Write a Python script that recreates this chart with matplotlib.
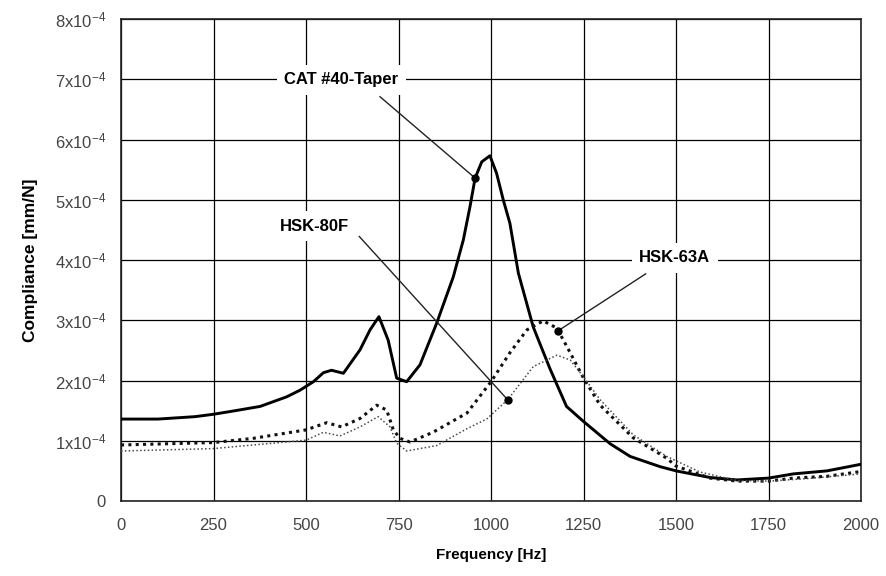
"""
Compliance FRF of three tool-holder interfaces (CAT #40 taper, HSK-80F, HSK-63A).
"""

import matplotlib

matplotlib.use("Agg")
import matplotlib.pyplot as plt
from matplotlib.ticker import FixedLocator, FuncFormatter

# ── Data (compliance in units of 1e-4 mm/N) ───────────────────────────────

cat40_freq = [0, 100, 200, 250, 300, 376, 448, 484, 520, 547, 569, 601, 646,
              673, 697, 722, 745, 772, 808, 853, 898, 925, 943, 957, 975, 997,
              1015, 1033, 1051, 1074, 1114, 1159, 1204, 1250, 1322, 1376, 1457,
              1500, 1592, 1665, 1750, 1817, 1908, 2000]
cat40_comp = [1.36, 1.36, 1.40, 1.44, 1.49, 1.57, 1.73, 1.84, 1.98, 2.13, 2.17,
              2.12, 2.51, 2.84, 3.06, 2.67, 2.04, 1.98, 2.26, 2.95, 3.72, 4.33,
              4.88, 5.36, 5.63, 5.73, 5.44, 5.00, 4.61, 3.78, 2.89, 2.20, 1.57,
              1.32, 0.95, 0.74, 0.57, 0.50, 0.39, 0.35, 0.38, 0.45, 0.50, 0.61]

hsk63_freq = [0, 250, 357, 500, 556, 596, 646, 691, 718, 736, 754, 781, 843,
              935, 1000, 1051, 1097, 1141, 1178, 1214, 1250, 1295, 1384, 1475,
              1500, 1592, 1665, 1750, 1817, 1908, 2000]
hsk63_comp = [0.93, 0.97, 1.04, 1.18, 1.30, 1.23, 1.37, 1.59, 1.51, 1.18, 1.04,
              0.98, 1.14, 1.46, 1.98, 2.46, 2.84, 2.99, 2.87, 2.46, 2.04, 1.59,
              1.05, 0.71, 0.58, 0.38, 0.33, 0.33, 0.38, 0.41, 0.49]

hsk80_freq = [0, 250, 500, 547, 592, 646, 695, 727, 745, 772, 853, 935, 988,
              1045, 1114, 1178, 1214, 1250, 1295, 1384, 1475, 1565, 1665, 1750,
              1850, 2000]
hsk80_comp = [0.83, 0.87, 1.01, 1.14, 1.08, 1.23, 1.40, 1.23, 0.96, 0.83, 0.92,
              1.20, 1.36, 1.68, 2.23, 2.42, 2.34, 2.06, 1.68, 1.10, 0.74, 0.48,
              0.34, 0.33, 0.37, 0.45]

x_ticks = [0, 250, 500, 750, 1000, 1250, 1500, 1750, 2000]
y_ticks = [0, 1, 2, 3, 4, 5, 6, 7, 8]

# callouts: label, text position, leader start, point on curve
label_names = ["CAT #40-Taper", "HSK-80F", "HSK-63A"]
label_pos = [(595, 6.99), (523, 4.56), (1497, 4.04)]
leader_from = [(700, 6.71), (644, 4.39), (1418, 3.77)]
curve_pts = [(957, 5.36), (1045, 1.68), (1180, 2.82)]

# ── Plot ──────────────────────────────────────────────────────────────────

plt.rcParams["font.family"] = ["Liberation Sans", "DejaVu Sans"]
plt.rcParams["mathtext.default"] = "regular"

fig = plt.figure(figsize=(8.86, 5.76), dpi=100)
ax = fig.add_axes([0.1366, 0.1302, 0.8352, 0.8368])

scale = 1e-4
ax.plot(cat40_freq, [v * scale for v in cat40_comp], color="black",
        linewidth=2.1, solid_joinstyle="round", zorder=4)
ax.plot(hsk63_freq, [v * scale for v in hsk63_comp], color="#111111",
        linewidth=2.2, linestyle=(0, (1, 1.4)), zorder=4)
ax.plot(hsk80_freq, [v * scale for v in hsk80_comp], color="#4a4a4a",
        linewidth=1.1, linestyle=(0, (1, 1.5)), zorder=4)

for name, tp, lp, cp in zip(label_names, label_pos, leader_from, curve_pts):
    ax.text(tp[0], tp[1] * scale, name, ha="center", va="center",
            fontsize=12, fontweight="bold",
            bbox=dict(boxstyle="square,pad=0.45", facecolor="white",
                      edgecolor="none"), zorder=3)
    ax.plot([lp[0], cp[0]], [lp[1] * scale, cp[1] * scale], color="#222222",
            linewidth=1.0, zorder=5)
    ax.plot(cp[0], cp[1] * scale, "o", color="black", markersize=5, zorder=6)

ax.set_xlim(0, 2000)
ax.set_ylim(0, 8 * scale)
ax.xaxis.set_major_locator(FixedLocator(x_ticks))
ax.yaxis.set_major_locator(FixedLocator([t * scale for t in y_ticks]))


def fmt_y(val, pos):
    k = int(round(val / scale))
    return "0" if k == 0 else f"{k}x10$^{{-4}}$"


ax.yaxis.set_major_formatter(FuncFormatter(fmt_y))
ax.grid(True, color="black", linewidth=0.9)
ax.set_axisbelow(True)
ax.tick_params(length=0, labelsize=12, labelcolor="#444444")
ax.tick_params(axis="y", pad=11)
ax.tick_params(axis="x", pad=12)
for sp in ax.spines.values():
    sp.set_linewidth(1.2)
    sp.set_color("#222222")

ax.set_xlabel("Frequency [Hz]", fontsize=11, fontweight="bold", labelpad=11)
ax.set_ylabel("Compliance [mm/N]", fontsize=12.5, fontweight="bold",
              labelpad=12)

fig.savefig("out.png", dpi=100)
